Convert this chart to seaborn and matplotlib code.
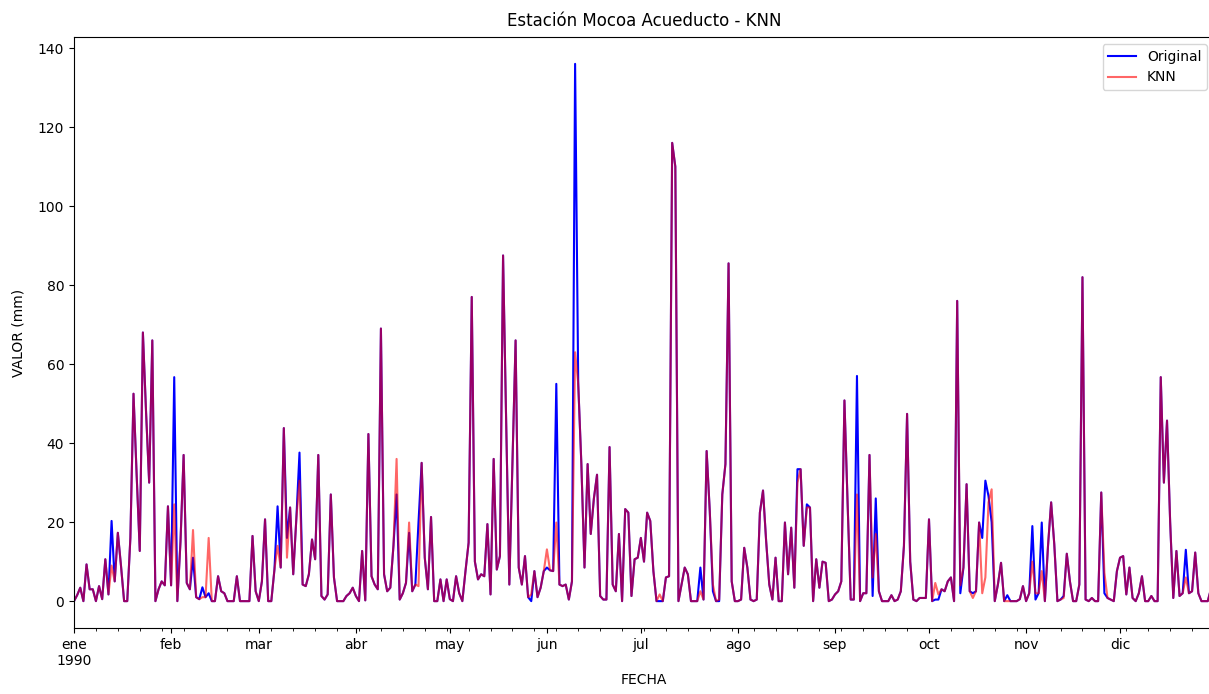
import numpy as np
import pandas as pd
import matplotlib
matplotlib.use("Agg")
import matplotlib.pyplot as plt
import matplotlib.dates as mdates
from matplotlib.ticker import FuncFormatter
import seaborn as sns

# ---------------- data (daily values, 1990) ----------------
dates = pd.date_range("1990-01-01", "1990-12-31", freq="D")

original = [
    0, 1.5, 3.4, 0, 9.3, 3, 3, 0, 3.8, 0.5, 10.6, 1.7, 20.3, 5, 17.3, 9, 0, 0, 16, 52.5,
    32, 12.7, 68, 48, 30, 66, 0, 3, 5, 4, 24, 4, 56.7, 0, 15, 37, 4.6, 3, 11, 1,
    0.5, 3.5, 1, 2, 0, 0, 6.3, 2.5, 2, 0, 0, 0, 6.3, 0, 0, 0, 0, 16.5, 2.5, 0,
    5, 20.7, 0, 0, 8, 24, 8.5, 43.8, 16, 23.7, 6.8, 21, 37.6, 4.2, 3.8, 6.8, 15.6, 10.6, 37, 1.3,
    0.4, 1.7, 27, 6, 0, 0, 0, 1.3, 2, 3.4, 1.3, 0, 12.7, 0.2, 42.3, 6.3, 4.2, 3, 69, 6.8,
    2.5, 3.4, 14, 27, 0.4, 2, 4.6, 17.3, 2.5, 4.2, 20, 35, 11, 3, 21.3, 0, 0, 5.5, 0, 5.5,
    0.5, 0, 6.3, 2, 0, 7.6, 14.8, 77, 10, 5.5, 6.8, 6.3, 19.5, 1.7, 36, 8, 11.4, 87.5, 45, 4.2,
    35, 66, 8.5, 4.2, 11.4, 1, 0, 7.6, 1, 3.4, 7.6, 8.5, 7.8, 7.6, 55, 4.2, 3.8, 4.2, 0.4, 5,
    136, 55, 34.7, 8.5, 34.7, 17, 26, 32, 1.3, 0.4, 0.4, 39, 4.2, 2.5, 17, 0, 23.3, 22.4, 1.3, 10.6,
    11, 16, 10, 22.4, 20.3, 7.6, 0, 0, 0, 6, 6.3, 116, 110, 0, 4.2, 8.5, 6.8, 0, 0, 0,
    8.5, 0.4, 38, 22.8, 2.5, 0, 0, 27, 34.7, 85.5, 5, 0, 0, 0.4, 13.5, 8.5, 0.4, 0, 0.4, 22.4,
    28, 15.2, 4.2, 0.4, 11, 0, 0, 19.9, 6.8, 18.6, 3.4, 33.4, 33.4, 14, 24.5, 23.7, 0, 10.6, 3.4, 10,
    9.7, 0, 0.4, 1.7, 2.5, 5, 50.8, 25, 0.4, 0.4, 57, 0, 2, 2, 37, 1.3, 26, 2.5, 0, 0,
    0, 1.5, 0, 0.4, 2.5, 14, 47.4, 10, 0.4, 0, 0.8, 0.8, 0.8, 20.7, 0, 0.4, 0.4, 3, 2.5, 5,
    6, 0, 76, 2, 8.5, 29.6, 2.5, 2, 2.5, 19.9, 16, 30.5, 26.6, 20, 0, 4.2, 9.7, 0, 1.5, 0,
    0, 0, 0.5, 3.8, 0, 2, 19, 0.4, 2, 19.9, 0, 14, 25, 14.4, 0, 0.4, 1.3, 12, 5, 0,
    0, 4.2, 82, 0.4, 0, 0.8, 0, 0, 27.5, 2, 0.8, 0.4, 0, 7.6, 11, 11.4, 1.7, 8.5, 0.8, 0,
    2, 6.3, 0, 0, 1.3, 0, 0, 56.7, 30, 45.7, 20, 0.8, 12.7, 1.3, 2, 13, 2, 2.5, 12.3, 2,
    0, 0, 0, 3, 0,
]

knn = [
    0, 1.5, 3.4, 0, 9.3, 3, 3, 0, 3.8, 0.5, 10.6, 1.7, 9, 5, 17.3, 9, 0, 0, 16, 52.5,
    32, 12.7, 68, 48, 30, 66, 0, 3, 5, 4, 24, 4, 24.5, 0, 15, 37, 4.6, 3, 18, 1,
    0.5, 1, 1, 16, 0, 0, 6.3, 2.5, 2, 0, 0, 0, 6.3, 0, 0, 0, 0, 16.5, 2.5, 0,
    5, 20.7, 0, 0, 8, 14, 8.5, 43.8, 11, 23.7, 6.8, 21, 30.5, 4.2, 3.8, 6.8, 15.6, 10.6, 37, 1.3,
    0.4, 1.7, 27, 6, 0, 0, 0, 1.3, 2, 3.4, 1.3, 0, 12.7, 0.2, 42.3, 6.3, 4.2, 3, 69, 6.8,
    2.5, 3.4, 14, 36, 0.4, 2, 4.6, 19.9, 2.5, 4.2, 3.8, 35, 11, 3, 21.3, 0, 0, 5.5, 0, 5.5,
    0.5, 0, 6.3, 2, 0, 7.6, 14.8, 77, 10, 5.5, 6.8, 6.3, 19.5, 1.7, 36, 8, 11.4, 87.5, 45, 4.2,
    35, 66, 8.5, 4.2, 11.4, 1, 1.7, 7.6, 1, 3.4, 7.6, 13.1, 7.8, 7.6, 19.9, 4.2, 3.8, 4.2, 0.4, 5,
    63, 55, 34.7, 8.5, 34.7, 17, 26, 32, 1.3, 0.4, 0.4, 39, 4.2, 2.5, 17, 0, 23.3, 22.4, 1.3, 10.6,
    11, 16, 10, 22.4, 20.3, 7.6, 0, 1.7, 0, 6, 6.3, 116, 110, 0, 4.2, 8.5, 6.8, 0, 0, 0,
    2.5, 0.4, 38, 22.8, 4.2, 0, 0.4, 27, 34.7, 85.5, 5, 0, 0, 0.4, 13.5, 8.5, 0.4, 0, 0.4, 22.4,
    28, 15.2, 4.2, 0.4, 11, 0, 0, 19.9, 6.8, 18.6, 3.4, 30, 33.4, 14, 23.7, 23.7, 0, 10.6, 3.4, 10,
    9.7, 0, 0.4, 1.7, 2.5, 5, 50.8, 25, 0.4, 0.4, 27, 0, 2, 2, 37, 6, 17, 2.5, 0, 0,
    0, 1.5, 0, 0.4, 2.5, 14, 47.4, 10, 0.4, 0, 0.8, 0.8, 0.8, 20.7, 0, 4.6, 1.7, 3, 2.5, 5,
    6, 0, 76, 4, 8.5, 29.6, 2.5, 0.8, 2.5, 19.9, 2, 6, 25, 28.3, 0, 4.2, 9.7, 0, 0, 0,
    0, 0, 0.5, 3.8, 0, 2, 10, 2, 2, 7.6, 0, 14, 25, 14.4, 0, 0.4, 0.8, 12, 5, 0,
    0, 4.2, 82, 0.4, 0, 0.8, 0, 0, 27.5, 7.2, 0.8, 0.4, 0, 7.6, 11, 11.4, 1.7, 8.5, 0.8, 0,
    2, 6.3, 0, 0, 1.3, 0, 0, 56.7, 30, 45.7, 20, 0.8, 12.7, 1.3, 2, 6, 2, 2.5, 12.3, 2,
    0, 0, 0, 3, 0,
]

month_labels = ["ene\n1990", "feb", "mar", "abr", "may", "jun",
                "jul", "ago", "sep", "oct", "nov", "dic"]

title = "Estación Mocoa Acueducto - KNN"
xlabel = "FECHA"
ylabel = "VALOR (mm)"

# ---------------- plot ----------------
df = pd.DataFrame({"FECHA": dates, "Original": original, "KNN": knn})

W, H = 1209, 694
fig = plt.figure(figsize=(W / 100, H / 100), dpi=100)
ax = fig.add_axes([74 / W, 1 - 628 / H, (1214 - 74) / W, (628 - 37) / H])

sns.lineplot(data=df, x="FECHA", y="Original", ax=ax, color="blue",
             linewidth=1.5, label="Original")
sns.lineplot(data=df, x="FECHA", y="KNN", ax=ax, color="red", alpha=0.6,
             linewidth=1.5, label="KNN")

ax.set_xlim(dates[0], dates[-1])
ax.set_ylim(-6.8, 142.8)
ax.set_yticks(np.arange(0, 141, 20))

ax.xaxis.set_major_locator(mdates.MonthLocator())
ax.xaxis.set_major_formatter(
    FuncFormatter(lambda v, pos: month_labels[mdates.num2date(v).month - 1]))
ax.xaxis.set_minor_locator(mdates.WeekdayLocator(byweekday=mdates.MO))
ax.xaxis.set_minor_formatter(FuncFormatter(lambda v, pos: ""))
for lab in ax.get_xticklabels():
    lab.set_rotation(0)
    lab.set_ha("center")

ax.set_title(title, fontsize=12, pad=8)
ax.set_xlabel(xlabel, fontsize=10)
ax.set_ylabel(ylabel, fontsize=10, labelpad=9)
ax.grid(False)
ax.legend(loc="upper right", fontsize=10)

fig.savefig("out.png", dpi=100)
